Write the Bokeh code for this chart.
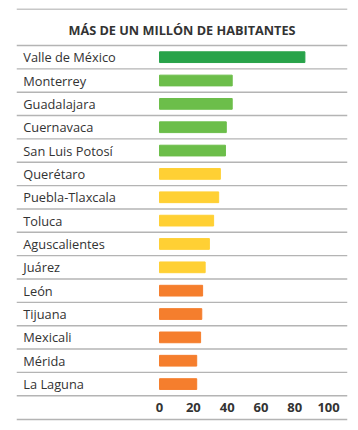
from bokeh.plotting import figure
from bokeh.models import ColumnDataSource, Range1d
from bokeh.core.properties import value
from bokeh.embed import file_html
from bokeh.resources import INLINE

# ---- data ----
cities = ["Valle de México", "Monterrey", "Guadalajara", "Cuernavaca", "San Luis Potosí",
          "Querétaro", "Puebla-Tlaxcala", "Toluca", "Aguscalientes", "Juárez",
          "León", "Tijuana", "Mexicali", "Mérida", "La Laguna"]
values = [86, 43, 43, 39.5, 39, 36, 35, 32, 29.5, 27, 25.5, 25, 24.3, 22, 22]
groups = ["a", "b", "b", "b", "b", "c", "c", "c", "c", "c", "d", "d", "d", "d", "d"]
group_colors = {"a": "#28a34a", "b": "#6cbe4a", "c": "#ffd034", "d": "#f57e2d"}
ticks = [0, 20, 40, 60, 80, 100]
title_text = "MÁS DE UN MILLÓN DE HABITANTES"

# ---- layout constants ----
ROW = 23.35
X0, X1 = -84.6, 111.2
Y_TOP, Y_BOT = 37 / ROW, -376 / ROW

n = len(cities)
ys = [-(i + 0.5) for i in range(n)]
src = ColumnDataSource(dict(city=cities, val=values, y=ys,
                            color=[group_colors[g] for g in groups]))

p = figure(width=350, height=421, output_backend="svg", toolbar_location=None,
           x_range=Range1d(X0, X1), y_range=Range1d(Y_BOT, Y_TOP),
           min_border_left=16, min_border_right=3, min_border_top=8, min_border_bottom=0)
p.axis.visible = False
p.grid.visible = False
p.outline_line_color = None
p.background_fill_color = "white"

line_color = "#b4b4b4"
# row separator lines
line_ys = [0.0] + [-(i + 1) for i in range(n)]
for yy in line_ys:
    p.line([X0, X1], [yy, yy], line_color=line_color, line_width=1.4)
# top and bottom rules
p.line([X0, X1], [36.5 / ROW, 36.5 / ROW], line_color=line_color, line_width=1.4)
p.line([X0, X1], [-374 / ROW, -374 / ROW], line_color=line_color, line_width=1.4)

p.hbar(y="y", left=0, right="val", height=0.46, color="color", source=src)

p.text(x=-80.6, y="y", text="city", source=src, text_font=value("Open Sans"),
       text_font_size="12.8px", text_color="#333333", text_baseline="middle", text_align="left")

p.text(x=[(X0 + X1) / 2], y=[16 / ROW], text=[title_text], text_font=value("Open Sans"),
       text_font_style="bold", text_font_size="12.7px", text_color="#333333",
       text_baseline="middle", text_align="center")

p.text(x=ticks, y=[-15.51] * len(ticks), text=[str(t) for t in ticks],
       text_font=value("Open Sans"), text_font_style="bold", text_font_size="13px",
       text_color="#333333", text_baseline="middle", text_align="center")

open("out.html", "w").write(file_html(p, INLINE))
